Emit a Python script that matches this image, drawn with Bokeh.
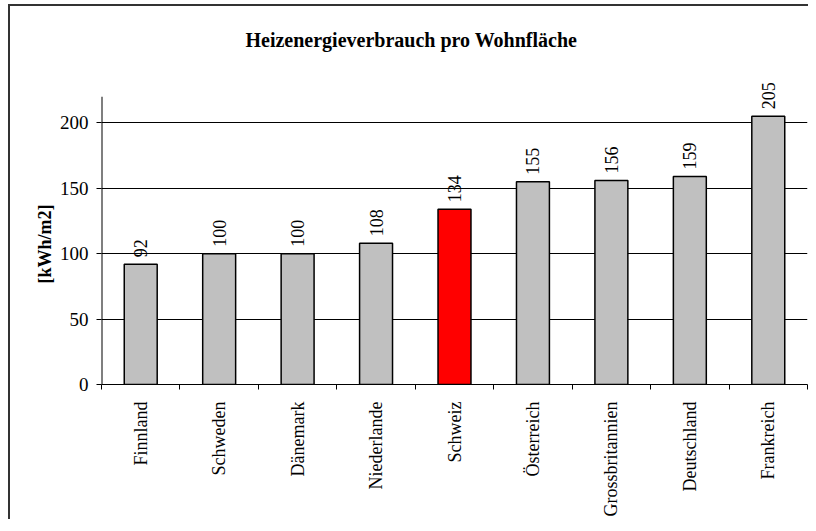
from bokeh.plotting import figure
from bokeh.models import Range1d, FixedTicker, CustomJSTickFormatter, Title
from bokeh.embed import file_html
from bokeh.resources import INLINE
import math

title_text = "Heizenergieverbrauch pro Wohnfläche"
y_label = "[kWh/m2]"
categories = ["Finnland", "Schweden", "Dänemark", "Niederlande", "Schweiz",
              "Österreich", "Grossbritannien", "Deutschland", "Frankreich"]
values = [92, 100, 100, 108, 134, 155, 156, 159, 205]
highlight = "Schweiz"
y_ticks = [0, 50, 100, 150, 200]
y_axis_top = 220

FONT = "Liberation Serif"

colors = ["#FF0000" if c == highlight else "#C0C0C0" for c in categories]
xs = [i + 0.5 for i in range(len(categories))]
labels = [str(v) for v in values]

W, H = 800, 515
p = figure(width=W, height=H, output_backend="svg", toolbar_location=None,
           x_range=Range1d(0, len(categories)), y_range=Range1d(0, 240),
           min_border_left=91, min_border_right=3, min_border_top=64,
           min_border_bottom=137, margin=(6, 0, 0, 10))
p.styles = {"box-shadow": "-2px -2px 0 0 #333", "background-color": "white"}
p.outline_line_color = None
p.background_fill_color = "white"
p.border_fill_color = "white"

p.title.text = title_text
p.title.text_font = FONT
p.title.text_font_style = "bold"
p.title.text_font_size = "20px"
p.title.text_color = "black"
p.title.align = "left"
p.title.offset = 144
p.title.standoff = 40

p.vbar(x=xs, top=values, width=0.42, bottom=0,
       fill_color=colors, line_color="black", line_width=1.5)

p.text(x=xs, y=values, text=labels, angle=math.pi / 2,
       text_align="left", text_baseline="middle", y_offset=-7,
       text_font={"value": FONT}, text_font_size="18px", text_color="black")

# y axis line drawn only up to y_axis_top
p.segment(x0=[0], y0=[0], x1=[0], y1=[y_axis_top], line_color="black", line_width=2)

# grid
p.xgrid.visible = False
p.ygrid.ticker = FixedTicker(ticks=y_ticks[1:])
p.ygrid.grid_line_color = "black"
p.ygrid.grid_line_width = 1
p.ygrid.grid_line_alpha = 1

# y axis
ya = p.yaxis[0]
ya.ticker = FixedTicker(ticks=y_ticks)
ya.axis_line_color = None
ya.major_tick_line_color = "black"
ya.major_tick_out = 5
ya.major_tick_in = 0
ya.minor_tick_line_color = None
ya.major_label_standoff = 8
ya.major_label_text_font = FONT
ya.major_label_text_font_size = "19px"
ya.major_label_text_color = "black"

ytitle = Title(text=y_label, align="left", offset=101, standoff=4,
               text_font=FONT, text_font_style="bold", text_font_size="18px",
               text_color="black")
p.add_layout(ytitle, "left")

# x axis
xa = p.xaxis[0]
xa.ticker = FixedTicker(ticks=xs, minor_ticks=list(range(len(categories) + 1)))
xa.formatter = CustomJSTickFormatter(args=dict(names=categories),
                                     code="return names[Math.floor(tick)] || ''")
xa.axis_line_color = "black"
xa.major_tick_line_color = None
xa.major_tick_out = 0
xa.major_tick_in = 0
xa.minor_tick_line_color = "black"
xa.minor_tick_out = 5
xa.minor_tick_in = 0
xa.major_label_orientation = math.pi / 2
xa.major_label_standoff = 12
xa.major_label_text_font = FONT
xa.major_label_text_font_size = "18px"
xa.major_label_text_color = "black"

open("out.html", "w").write(file_html(p, INLINE))
